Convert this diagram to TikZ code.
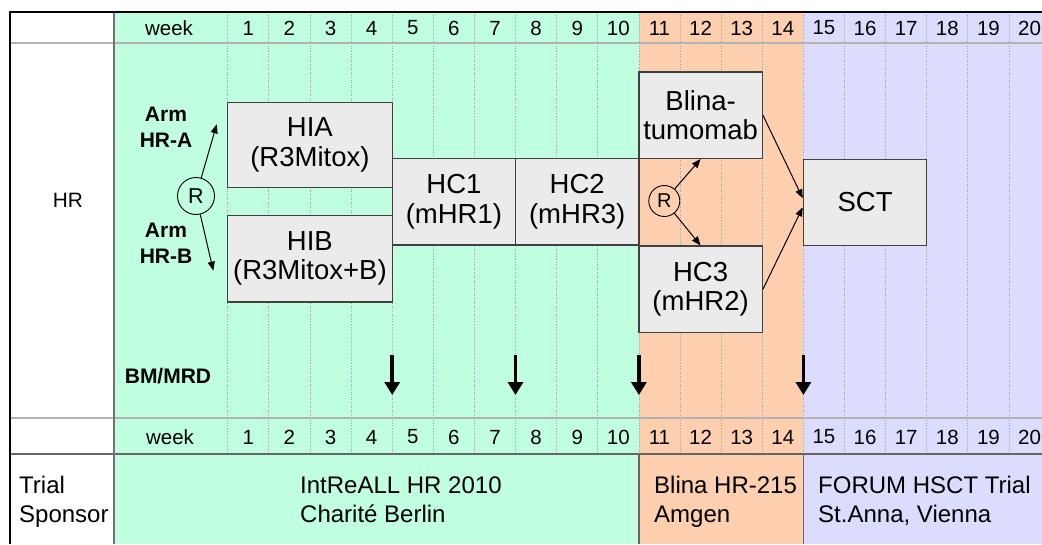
\documentclass[tikz,border=0pt]{standalone}
\usepackage{fontspec}
\setmainfont{Liberation Sans}
\usetikzlibrary{arrows.meta}
\definecolor{cgreen}{RGB}{192,255,224}
\definecolor{corange}{RGB}{255,208,176}
\definecolor{cviolet}{RGB}{220,220,255}
\definecolor{boxfill}{RGB}{235,235,235}
\definecolor{boxline}{RGB}{64,64,64}
\begin{document}
\begin{tikzpicture}[x=1pt,y=-1pt,
  phase/.style={draw=boxline,line width=1.3pt,fill=boxfill,inner sep=0pt,align=center,font=\fontsize{27.5}{29.5}\selectfont},
  gridline/.style={gray!75,line width=0.8pt,dash pattern=on 1pt off 1.6pt},
  weeklbl/.style={font=\fontsize{20.5}{24}\selectfont},
  armlbl/.style={font=\bfseries\fontsize{21}{26}\selectfont,align=center},
  rand/.style={circle,draw,line width=0.9pt,inner sep=0pt},
  thinarrow/.style={-{Triangle[length=9pt,width=7pt]},line width=1pt},
  mrdarrow/.style={-{Triangle[length=13pt,width=15pt]},line width=3.6pt},
  sptext/.style={font=\fontsize{24}{29}\selectfont,anchor=base west,inner sep=0pt},
]
\useasboundingbox (0,0) rectangle (1042,544);
\fill[white] (0,0) rectangle (1042,544);
\fill[cgreen] (114,12) rectangle (638.9,544);
\fill[corange] (638.9,12) rectangle (803.4,544);
\fill[cviolet] (803.4,12) rectangle (1042,544);
% week grid
\foreach \k in {0,...,20} \draw[gridline] ({227.7+\k*41.12},12) -- ({227.7+\k*41.12},454);
% table lines
\draw[gray!60, line width=1.2pt] (10,43) -- (1042,43);
\draw[gray!60, line width=1.2pt] (10,418) -- (1042,418);
\draw[black!60, line width=1.2pt] (10,454) -- (1042,454);
\draw[black!55, line width=1.2pt] (114,12) -- (114,544);
\draw[black!60, line width=1.2pt] (638.9,454) -- (638.9,544);
\draw[black!60, line width=1.2pt] (803.4,454) -- (803.4,544);
\draw[black, line width=1.6pt] (1042,12) -- (10,12) -- (10,544);
% week labels
\node[weeklbl] (wkT) at (169,28) {week};
\node[weeklbl] (wkB) at (170,437) {week};
\foreach \i in {1,...,20} {
  \node[weeklbl] (tw\i) at ({227.7+(\i-0.5)*41.12},28) {\i};
  \node[weeklbl] (bw\i) at ({227.7+(\i-0.5)*41.12},437) {\i};
}
% row labels
\node[font=\fontsize{20.8}{24}\selectfont] (hr) at (68,200) {HR};
\node[armlbl] (armA) at (166,127) {Arm\\HR-A};
\node[armlbl] (armB) at (166,243.5) {Arm\\HR-B};
\node[font=\bfseries\fontsize{21}{26}\selectfont] (bm) at (168,376) {BM/MRD};
% phase boxes
\node[phase,minimum width=164.5pt,minimum height=85pt] (HIA) at (309.9,144.8) {HIA\\(R3Mitox)};
\node[phase,minimum width=164.5pt,minimum height=86.7pt] (HIB) at (309.9,258.6) {HIB\\(R3Mitox+B)};
\node[phase,minimum width=123.4pt,minimum height=86.7pt] (HC1) at (453.9,201.6) {HC1\\(mHR1)};
\node[phase,minimum width=123.4pt,minimum height=86.7pt] (HC2) at (577.2,201.6) {HC2\\(mHR3)};
\node[phase,minimum width=123.4pt,minimum height=86.3pt] (Blina) at (700.6,115.2) {Blina-\\tumomab};
\node[phase,minimum width=123.4pt,minimum height=86.3pt] (HC3) at (700.6,289.2) {HC3\\(mHR2)};
\node[phase,minimum width=123.4pt,minimum height=86pt] (SCT) at (865.1,202.3) {SCT};
% randomisations
\node[rand,minimum size=37pt,font=\fontsize{21.5}{24}\selectfont] (R1) at (196,196) {R};
\coordinate (a1) at (216.7,124.3);
\coordinate (b1) at (213.3,270.7);
\draw[thinarrow] (R1) -- (a1);
\draw[thinarrow] (R1) -- (b1);
\node[rand,minimum size=31pt,font=\fontsize{20}{22}\selectfont] (R2) at (664.3,201) {R};
\draw[thinarrow] (R2) -- (Blina.south);
\draw[thinarrow] (R2) -- (HC3.north);
\draw[thinarrow] (Blina.east) -- ([yshift=4pt]SCT.west);
\draw[thinarrow] (HC3.east) -- ([yshift=-5pt]SCT.west);
% BM/MRD arrows
\foreach \n/\x in {1/392.2,2/515.5,3/638.9,4/803.4} {
  \coordinate (ms\n) at (\x,355);
  \coordinate (me\n) at (\x,395);
  \draw[mrdarrow] (ms\n) -- (me\n);
}
% sponsor row
\node[sptext] (tr1) at (19,493.6) {Trial};
\node[sptext] (tr2) at (19,522.6) {Sponsor};
\node[sptext] (in1) at (300,493.6) {IntReALL HR 2010};
\node[sptext] (in2) at (300,522.6) {Charité Berlin};
\node[sptext] (bl1) at (654,493.6) {Blina HR-215};
\node[sptext] (bl2) at (654,522.6) {Amgen};
\node[sptext] (fo1) at (818,493.6) {FORUM HSCT Trial};
\node[sptext] (fo2) at (818,522.6) {St.Anna, Vienna};
\end{tikzpicture}
\end{document}
